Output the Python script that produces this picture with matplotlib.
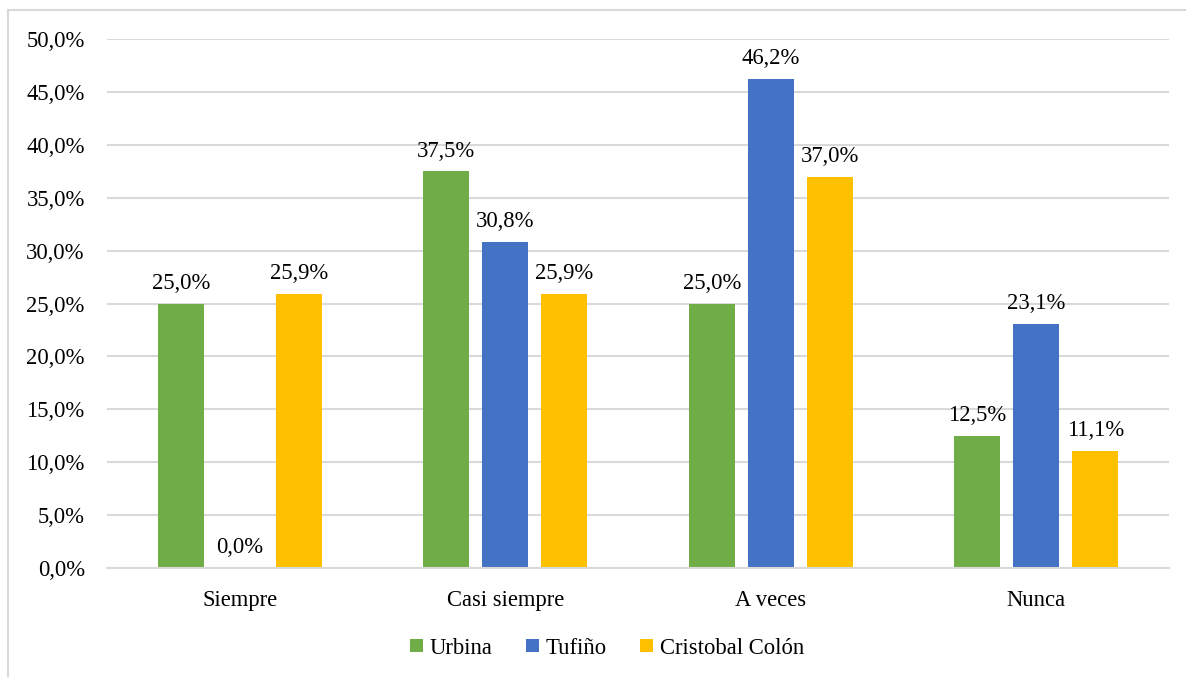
import matplotlib
matplotlib.use("Agg")
import matplotlib.pyplot as plt
from matplotlib.lines import Line2D
from matplotlib.patches import Patch
import numpy as np

categories = ["Siempre", "Casi siempre", "A veces", "Nunca"]
series_names = ["Urbina", "Tufiño", "Cristobal Colón"]
urbina = [25.0, 37.5, 25.0, 12.5]
tufino = [0.0, 30.8, 46.2, 23.1]
colon = [25.9, 25.9, 37.0, 11.1]
colors = ["#70ad47", "#4472c4", "#ffc000"]
yticks = [0, 5, 10, 15, 20, 25, 30, 35, 40, 45, 50]

plt.rcParams['font.family'] = ['Liberation Serif', 'DejaVu Serif']

fig = plt.figure(figsize=(11.86, 6.77), dpi=100)
ax = fig.add_axes([107/1186, 1-568/677, (1169-107)/1186, (568-39)/677])

x = np.arange(len(categories))
width = 0.173
offset = 0.222
for i, (vals, c) in enumerate(zip([urbina, tufino, colon], colors)):
    pos = x + (i - 1) * offset
    bars = ax.bar(pos, vals, width=width, color=c, zorder=3)
    for b, v in zip(bars, vals):
        ax.annotate(f"{v:.1f}%".replace(".", ","), (b.get_x() + b.get_width()/2, v),
                    xytext=(0, 7), textcoords="offset points", ha="center", va="bottom",
                    fontsize=16.3, color="#000000")

ax.set_xlim(-0.5, 3.5)
ax.set_ylim(0, 50)
ax.set_yticks(yticks)
ax.set_yticklabels([f"{t:.1f}%".replace(".", ",") for t in yticks], fontsize=16.3)
ax.set_xticks(x)
ax.set_xticklabels(categories, fontsize=16.3)
ax.tick_params(axis="both", length=0)
ax.tick_params(axis="y", pad=16)
ax.tick_params(axis="x", pad=16)
ax.grid(axis="y", color="#d9d9d9", linewidth=1.5, zorder=0)
for s in ["top", "right", "left"]:
    ax.spines[s].set_visible(False)
ax.spines["bottom"].set_color("#d9d9d9")
ax.spines["bottom"].set_linewidth(1.5)
ax.spines["bottom"].set_zorder(4)

handles = [Patch(facecolor=c, edgecolor="none") for c in colors]
fig.legend(handles, series_names, loc="center", bbox_to_anchor=(607/1186, 1-648/677),
           ncol=3, frameon=False, fontsize=16.3, handlelength=0.55, handleheight=0.55,
           handletextpad=0.3, columnspacing=1.5)

# chart border
fig.add_artist(Line2D([8/1186, 8/1186], [0, 1-10/677], color="#d9d9d9", linewidth=1.5))
fig.add_artist(Line2D([8/1186, 1], [1-10/677, 1-10/677], color="#d9d9d9", linewidth=1.5))

fig.savefig("out.png", dpi=100, facecolor="white")
